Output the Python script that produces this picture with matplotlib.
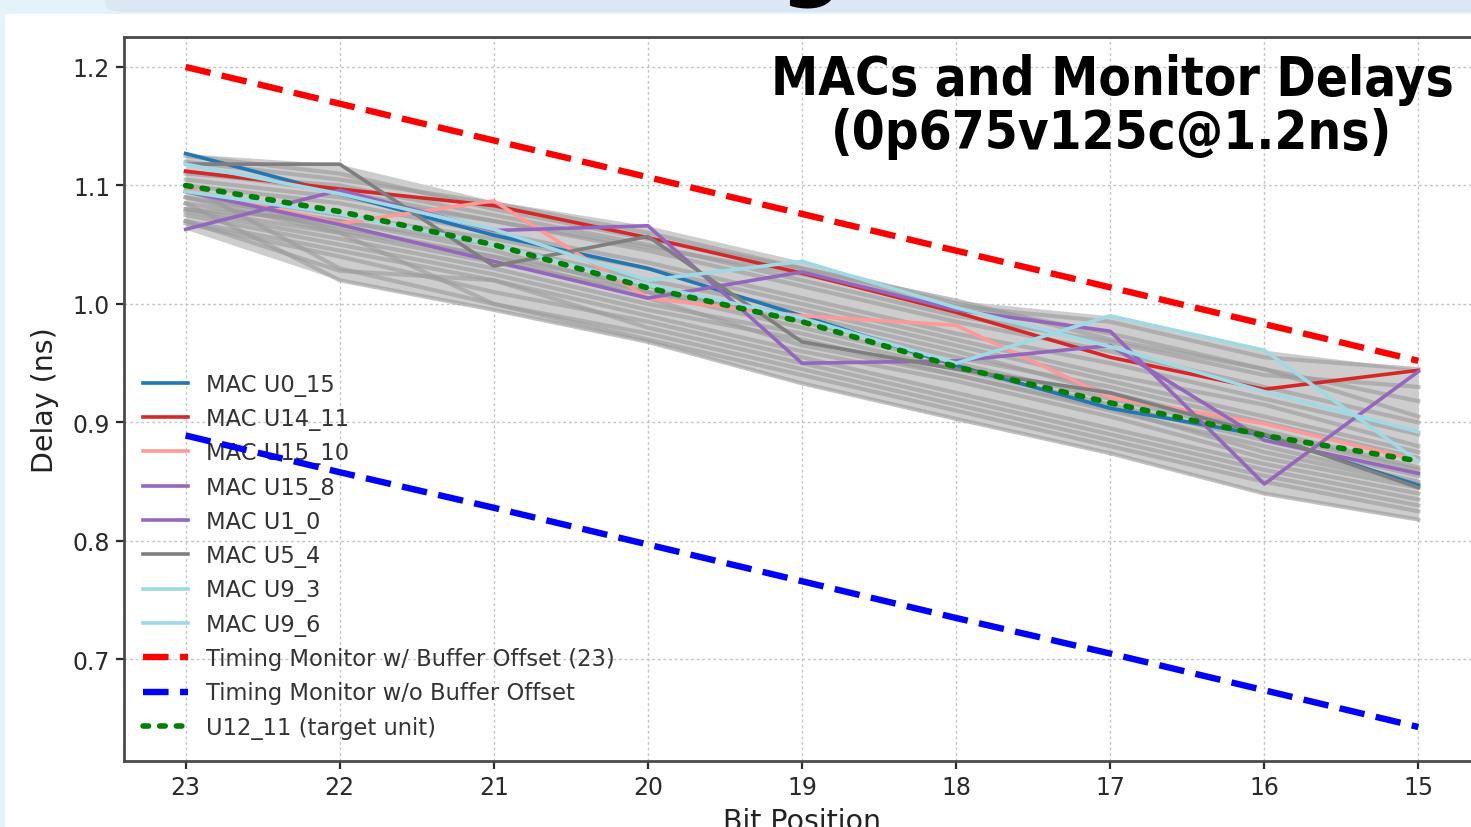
import matplotlib
matplotlib.use("Agg")
import matplotlib.pyplot as plt
import numpy as np
from matplotlib.font_manager import FontProperties, findfont
from matplotlib.patches import Rectangle, FancyBboxPatch

# ---------------- data ----------------
bits = [23, 22, 21, 20, 19, 18, 17, 16, 15]

mac_u0_15 = [1.127, 1.093, 1.058, 1.030, 0.990, 0.948, 0.912, 0.889, 0.847]
mac_u14_11 = [1.112, 1.097, 1.083, 1.056, 1.026, 0.993, 0.955, 0.928, 0.944]
mac_u15_10 = [1.097, 1.068, 1.087, 1.005, 0.990, 0.982, 0.921, 0.899, 0.868]
mac_u15_8 = [1.063, 1.096, 1.062, 1.066, 0.950, 0.952, 0.965, 0.885, 0.857]
mac_u1_0 = [1.095, 1.067, 1.036, 1.005, 1.027, 0.995, 0.977, 0.848, 0.943]
mac_u5_4 = [1.118, 1.118, 1.032, 1.057, 0.968, 0.945, 0.925, 0.890, 0.845]
mac_u9_3 = [1.118, 1.093, 1.063, 1.020, 1.036, 0.997, 0.964, 0.926, 0.892]
mac_u9_6 = [1.095, 1.076, 1.050, 1.016, 0.988, 0.950, 0.990, 0.961, 0.867]

monitor_offset = [1.200, 1.169, 1.138, 1.107, 1.076, 1.045, 1.014, 0.983, 0.952]
monitor_no_offset = [0.889, 0.858, 0.828, 0.797, 0.766, 0.735, 0.705, 0.674, 0.643]
target_u12_11 = [1.100, 1.078, 1.050, 1.0135, 0.985, 0.947, 0.9165, 0.889, 0.8675]

other_macs = [
    [1.120, 1.105, 1.085, 1.060, 1.030, 1.000, 0.975, 0.945, 0.905],
    [1.110, 1.100, 1.075, 1.050, 1.020, 0.990, 0.968, 0.940, 0.930],
    [1.105, 1.090, 1.070, 1.045, 1.015, 0.985, 0.960, 0.930, 0.900],
    [1.100, 1.085, 1.060, 1.035, 1.005, 0.975, 0.950, 0.920, 0.890],
    [1.095, 1.075, 1.055, 1.030, 1.000, 0.970, 0.940, 0.915, 0.880],
    [1.090, 1.070, 1.050, 1.020, 0.995, 0.965, 0.935, 0.905, 0.875],
    [1.085, 1.065, 1.040, 1.015, 0.985, 0.955, 0.930, 0.900, 0.870],
    [1.080, 1.060, 1.035, 1.010, 0.980, 0.950, 0.920, 0.890, 0.860],
    [1.078, 1.055, 1.030, 1.000, 0.975, 0.945, 0.915, 0.885, 0.855],
    [1.075, 1.050, 1.025, 0.995, 0.970, 0.940, 0.910, 0.880, 0.850],
    [1.070, 1.045, 1.020, 0.990, 0.960, 0.935, 0.905, 0.870, 0.845],
    [1.068, 1.040, 1.010, 0.985, 0.955, 0.925, 0.895, 0.865, 0.840],
    [1.070, 1.028, 1.020, 0.980, 0.950, 0.920, 0.890, 0.860, 0.835],
    [1.100, 1.030, 1.000, 0.975, 0.945, 0.915, 0.885, 0.855, 0.830],
    [1.090, 1.060, 1.000, 0.970, 0.940, 0.910, 0.880, 0.850, 0.825],
    [1.085, 1.020, 0.995, 0.968, 0.933, 0.903, 0.874, 0.840, 0.818],
    [1.112, 1.095, 1.070, 1.048, 1.025, 0.998, 0.985, 0.955, 0.945],
    [1.125, 1.110, 1.080, 1.055, 1.030, 1.003, 0.970, 0.945, 0.918],
    [1.080, 1.070, 1.045, 1.010, 0.990, 0.960, 0.925, 0.893, 0.862],
    [1.095, 1.062, 1.040, 1.005, 0.965, 0.940, 0.912, 0.875, 0.848],
]

highlight_labels = ["MAC U0_15", "MAC U14_11", "MAC U15_10", "MAC U15_8",
                    "MAC U1_0", "MAC U5_4", "MAC U9_3", "MAC U9_6"]
highlight_series = [mac_u0_15, mac_u14_11, mac_u15_10, mac_u15_8,
                    mac_u1_0, mac_u5_4, mac_u9_3, mac_u9_6]
highlight_colors = ["#1f77b4", "#d62728", "#ff9896", "#9467bd",
                    "#9467bd", "#7f7f7f", "#9edae5", "#9edae5"]

yticks = [0.7, 0.8, 0.9, 1.0, 1.1, 1.2]
title_text = "MACs and Monitor Delays\n(0p675v125c@1.2ns)"

# ---------------- font ----------------
title_stretch = "normal"
try:
    p = findfont(FontProperties(family="DejaVu Sans", stretch="condensed"), fallback_to_default=False)
    if "Condensed" in p:
        title_stretch = "condensed"
except Exception:
    pass
plt.rcParams["font.family"] = "DejaVu Sans"

W, H = 1471, 828
fig = plt.figure(figsize=(W / 100, H / 100), dpi=100)
fig.patch.set_facecolor("#e2f3fa")

# slide-like background
fig.patches.append(FancyBboxPatch((105 / W, 1 - 13 / H), (W - 90) / W, 30 / H,
                                  boxstyle="round,pad=0,rounding_size=0.012",
                                  transform=fig.transFigure, facecolor="#dbe7f3",
                                  edgecolor="none", zorder=-2))
fig.patches.append(Rectangle((5 / W, 0), 1, 1 - 15 / H, transform=fig.transFigure,
                             facecolor="white", edgecolor="none", zorder=-1))
fig.text(812 / W, 1 + 12 / H, "g", fontsize=64, fontweight="bold", color="black",
         ha="center", va="baseline", zorder=1)

ax = fig.add_axes([124 / W, 1 - 762 / H, (1480 - 124) / W, (762 - 38) / H])
ax.set_zorder(2)
ax.set_facecolor("white")

x = np.array(bits)
allser = np.array(other_macs + highlight_series)
ax.fill_between(x, allser.min(axis=0), allser.max(axis=0), color="#cdcdcd", lw=0, zorder=1)
for s in other_macs:
    ax.plot(x, s, color="#9a9a9a", lw=3.0, alpha=0.6, zorder=2)

for lab, s, c in zip(highlight_labels, highlight_series, highlight_colors):
    ax.plot(x, s, color=c, lw=2.6, label=lab, zorder=3)

ax.plot(x, monitor_offset, color="#ff0000", lw=4.6, ls=(0, (4.0, 1.8)),
        label="Timing Monitor w/ Buffer Offset (23)", zorder=4)
ax.plot(x, monitor_no_offset, color="#0000ff", lw=4.6, ls=(0, (4.0, 1.8)),
        label="Timing Monitor w/o Buffer Offset", zorder=4)
ax.plot(x, target_u12_11, color="#008000", lw=4.0, ls=(0, (1, 2.0)),
        dash_capstyle="round", label="U12_11 (target unit)", zorder=5)

ax.set_xlim(23.4, 14.6)
ax.set_ylim(0.6143, 1.2253)
ax.set_xticks(bits)
ax.set_xticklabels([str(b) for b in bits])
ax.set_yticks(yticks)
ax.set_yticklabels([f"{v:.1f}" for v in yticks])
ax.grid(True, color="#c4c4c4", ls=(0, (2, 2)), lw=1.0)
ax.set_axisbelow(True)
for sp in ax.spines.values():
    sp.set_color("#4a4a4a")
    sp.set_linewidth(2.0)
ax.tick_params(axis="both", labelsize=17, colors="#2a2a2a", length=6, width=1.6, pad=4)

ax.set_xlabel("Bit Position", fontsize=20.5, color="#222222", labelpad=6)
ax.set_ylabel("Delay (ns)", fontsize=20.5, color="#222222", labelpad=10)

leg = ax.legend(loc="upper left", bbox_to_anchor=(0.0074, 0.549), frameon=False,
                fontsize=16.3, labelspacing=0.50, handlelength=2.0, handletextpad=0.8,
                borderaxespad=0.0)
for t in leg.get_texts():
    t.set_color("#333333")
leg.set_zorder(2.5)

fig.text(1112 / W, 1 - 107 / H, title_text, fontsize=38, fontweight="bold",
         fontstretch=title_stretch, color="black", ha="center", va="center",
         linespacing=1.05, zorder=10)

fig.savefig("out.png", dpi=100, facecolor=fig.get_facecolor())
